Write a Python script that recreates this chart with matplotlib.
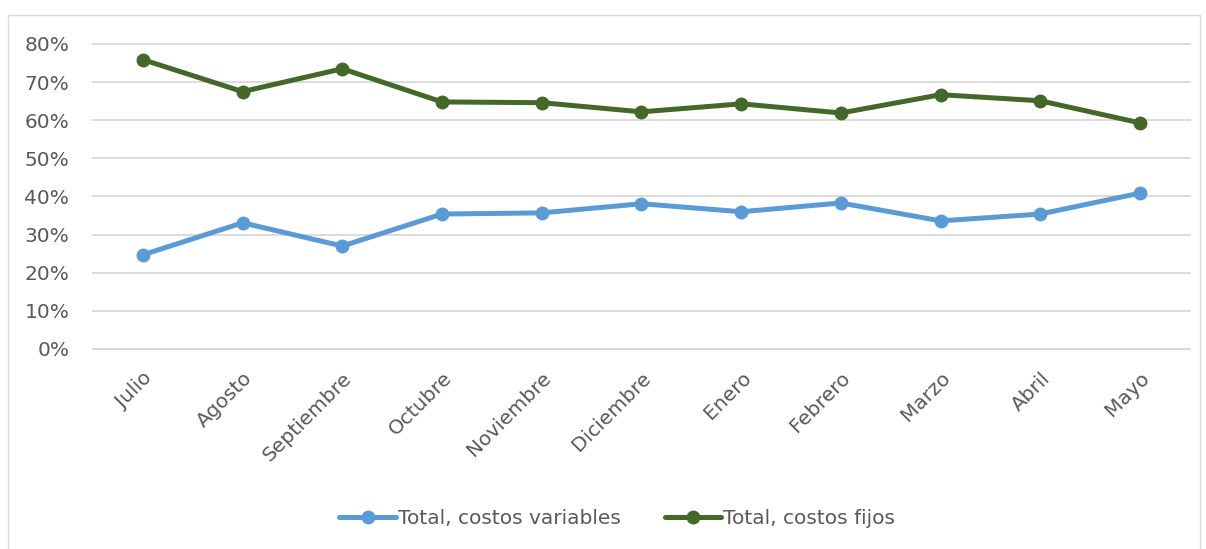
import matplotlib

matplotlib.use("Agg")
import matplotlib.pyplot as plt
from matplotlib.patches import Rectangle
from matplotlib.ticker import PercentFormatter

months = ["Julio", "Agosto", "Septiembre", "Octubre", "Noviembre", "Diciembre",
          "Enero", "Febrero", "Marzo", "Abril", "Mayo"]
variable_costs = [24.7, 33.1, 27.0, 35.4, 35.7, 38.1, 36.0, 38.3, 33.6, 35.4, 40.9]
fixed_costs = [75.9, 67.5, 73.5, 64.8, 64.6, 62.2, 64.3, 61.9, 66.7, 65.1, 59.3]

text_color = "#595959"
plt.rcParams["font.family"] = ["DejaVu Sans"]

fig = plt.figure(figsize=(12.06, 5.49), dpi=100)
ax = fig.add_axes([0.0771, 0.3643, 0.9096, 0.5556])

x = range(len(months))
ax.plot(x, variable_costs, color="#5B9BD5", linewidth=3.6, marker="o",
        markersize=9, label="Total, costos variables", solid_capstyle="round")
ax.plot(x, fixed_costs, color="#44682A", linewidth=3.6, marker="o",
        markersize=9, label="Total, costos fijos", solid_capstyle="round")

ax.set_xlim(-0.5, len(months) - 0.5)
ax.set_ylim(0, 80)
ax.set_yticks(range(0, 81, 10))
ax.yaxis.set_major_formatter(PercentFormatter(decimals=0))
ax.grid(axis="y", color="#d9d9d9", linewidth=1.3)
for gl in ax.get_ygridlines():
    gl.set_clip_on(False)
ax.set_axisbelow(True)
for side in ["top", "right", "left"]:
    ax.spines[side].set_visible(False)
ax.spines["bottom"].set_color("#d9d9d9")
ax.spines["bottom"].set_linewidth(1.3)
ax.tick_params(axis="both", length=0, colors=text_color, labelsize=14.5)
ax.tick_params(axis="y", pad=17)
ax.set_xticks(list(x))
ax.set_xticklabels(months, rotation=45, ha="right", va="top",
                   rotation_mode="anchor")
ax.tick_params(axis="x", pad=14)

leg = ax.legend(loc="center", ncol=2, frameon=False,
                fontsize=14.5, handlelength=2.8, columnspacing=2.2,
                handletextpad=0.1)
leg.set_bbox_to_anchor((0.512, 0.055), transform=fig.transFigure)
for t in leg.get_texts():
    t.set_color(text_color)

fig.patches.append(Rectangle((8 / 1206, -0.01), 1192 / 1206, 1.01 - 15 / 549,
                             transform=fig.transFigure, fill=False,
                             edgecolor="#d9d9d9", linewidth=1))

fig.savefig("out.png", dpi=100)
plt.close(fig)
